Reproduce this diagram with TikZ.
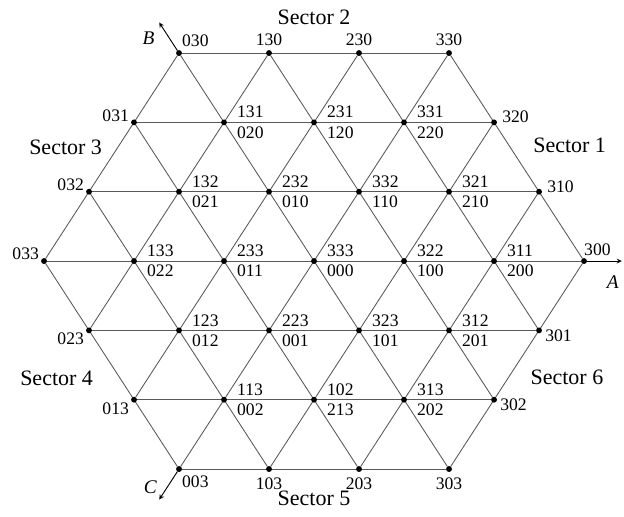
\documentclass[tikz,border=0pt]{standalone}
\usepackage{fontspec}
\setmainfont{Liberation Serif}
\usetikzlibrary{arrows, backgrounds}
\tikzstyle{dot}    = [circle, fill=black, minimum size=4.4pt, inner sep=0pt, outer sep=0pt]
\tikzstyle{num}    = [inner sep=0pt, font=\fontsize{13.2}{15}\selectfont]
\tikzstyle{edge}   = [black!65, line width=0.65pt]
\tikzstyle{axis}   = [line width=0.7pt, ->, >=stealth]
\tikzstyle{sector} = [font=\fontsize{16.5}{18}\selectfont]
\tikzstyle{axname} = [font=\fontsize{14.5}{16}\selectfont\itshape]
\tikzset{
  hi/.style={label={[num, xshift=8.1pt, yshift=1.4pt]45:#1}},
  lo/.style={label={[num, xshift=8.1pt, yshift=-1.4pt]-45:#1}},
  up/.style={label={[num, yshift=3.1pt]90:#1}},
  dn/.style={label={[num, yshift=-3.8pt]-90:#1}},
  ur/.style={label={[num, xshift=0.6pt, yshift=2.9pt]45:#1}},
  dr/.style={label={[num, xshift=0.6pt, yshift=-3.2pt]-45:#1}},
  ru/.style={label={[num, xshift=3.8pt, yshift=4pt]0:#1}},
  rd/.style={label={[num, xshift=2.3pt, yshift=-3.75pt]0:#1}},
  lu/.style={label={[num, xshift=-2.1pt, yshift=-0.9pt]135:#1}},
  ld/.style={label={[num, xshift=-2.1pt, yshift=-0.3pt]-135:#1}},
}
\begin{document}
\begin{tikzpicture}[x=67.5pt, y=52pt]
\useasboundingbox (-3.489,-3.678) rectangle (3.444,3.765);

% row 3
\node[dot, ur=030] (p030) at (-1.5,3) {};
\node[dot, up=130] (p130) at (-0.5,3) {};
\node[dot, up=230] (p230) at (0.5,3) {};
\node[dot, up=330] (p330) at (1.5,3) {};

% row 2
\node[dot, lu=031] (p031) at (-2,2) {};
\node[dot, hi=131, lo=020] (p131) at (-1,2) {};
\node[dot, hi=231, lo=120] (p231) at (0,2) {};
\node[dot, hi=331, lo=220] (p331) at (1,2) {};
\node[dot, ru=320] (p320) at (2,2) {};

% row 1
\node[dot, lu=032] (p032) at (-2.5,1) {};
\node[dot, hi=132, lo=021] (p132) at (-1.5,1) {};
\node[dot, hi=232, lo=010] (p232) at (-0.5,1) {};
\node[dot, hi=332, lo=110] (p332) at (0.5,1) {};
\node[dot, hi=321, lo=210] (p321) at (1.5,1) {};
\node[dot, ru=310] (p310) at (2.5,1) {};

% row 0
\node[dot, lu=033] (p033) at (-3,0) {};
\node[dot, hi=133, lo=022] (p133) at (-2,0) {};
\node[dot, hi=233, lo=011] (p233) at (-1,0) {};
\node[dot, hi=333, lo=000] (p333) at (0,0) {};
\node[dot, hi=322, lo=100] (p322) at (1,0) {};
\node[dot, hi=311, lo=200] (p311) at (2,0) {};
\node[dot, label={[num, xshift=-1.6pt, yshift=2.1pt]45:300}] (p300) at (3,0) {};

% row -1
\node[dot, ld=023] (p023) at (-2.5,-1) {};
\node[dot, hi=123, lo=012] (p123) at (-1.5,-1) {};
\node[dot, hi=223, lo=001] (p223) at (-0.5,-1) {};
\node[dot, hi=323, lo=101] (p323) at (0.5,-1) {};
\node[dot, hi=312, lo=201] (p312) at (1.5,-1) {};
\node[dot, rd=301] (p301) at (2.5,-1) {};

% row -2
\node[dot, ld=013] (p013) at (-2,-2) {};
\node[dot, hi=113, lo=002] (p113) at (-1,-2) {};
\node[dot, hi=102, lo=213] (p102) at (0,-2) {};
\node[dot, hi=313, lo=202] (p313) at (1,-2) {};
\node[dot, rd=302] (p302) at (2,-2) {};

% row -3
\node[dot, dr=003] (p003) at (-1.5,-3) {};
\node[dot, dn=103] (p103) at (-0.5,-3) {};
\node[dot, dn=203] (p203) at (0.5,-3) {};
\node[dot, dn=303] (p303) at (1.5,-3) {};

% sectors
\node[sector] (s1) at (2.84,1.67) {Sector 1};
\node[sector] (s2) at (0,3.52) {Sector 2};
\node[sector] (s3) at (-2.76,1.64) {Sector 3};
\node[sector] (s4) at (-2.86,-1.69) {Sector 4};
\node[sector] (s5) at (0,-3.42) {Sector 5};
\node[sector] (s6) at (2.81,-1.67) {Sector 6};

% axes
\coordinate (tA) at (3.42,0);
\coordinate (tB) at (-1.72,3.44);
\coordinate (tC) at (-1.72,-3.44);
\draw[axis] (p300) -- (tA);
\draw[axis] (p030) -- (tB);
\draw[axis] (p003) -- (tC);
\node[axname] (nA) at (3.32,-0.30) {A};
\node[axname] (nB) at (-1.84,3.22) {B};
\node[axname] (nC) at (-1.82,-3.26) {C};

\begin{scope}[on background layer]
% horizontal
\draw[edge] (p030) -- (p330);
\draw[edge] (p031) -- (p320);
\draw[edge] (p032) -- (p310);
\draw[edge] (p033) -- (p300);
\draw[edge] (p023) -- (p301);
\draw[edge] (p013) -- (p302);
\draw[edge] (p003) -- (p303);

% rising
\draw[edge] (p033) -- (p030);
\draw[edge] (p023) -- (p130);
\draw[edge] (p013) -- (p230);
\draw[edge] (p003) -- (p330);
\draw[edge] (p103) -- (p320);
\draw[edge] (p203) -- (p310);
\draw[edge] (p303) -- (p300);

% falling
\draw[edge] (p033) -- (p003);
\draw[edge] (p032) -- (p103);
\draw[edge] (p031) -- (p203);
\draw[edge] (p030) -- (p303);
\draw[edge] (p130) -- (p302);
\draw[edge] (p230) -- (p301);
\draw[edge] (p330) -- (p300);
\end{scope}

\end{tikzpicture}
\end{document}
